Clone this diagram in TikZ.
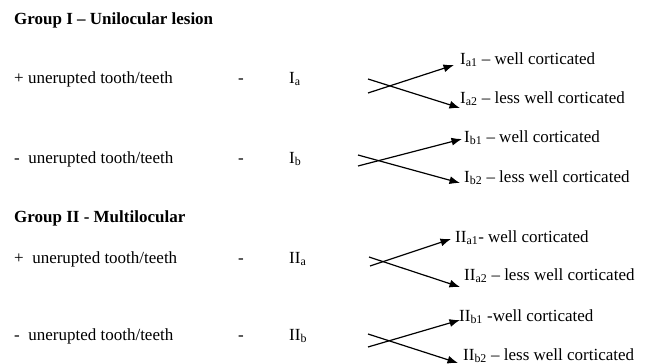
\documentclass[tikz,border=0pt]{standalone}
\usepackage{fontspec}
\setmainfont{Liberation Serif}
\usetikzlibrary{arrows.meta}

\begin{document}
\begin{tikzpicture}[
    x=1pt, y=-1pt,
    >={Latex[length=10.5pt,width=8pt]},
    txt/.style={anchor=base west, inner sep=0pt, font=\fontsize{17}{20}\selectfont},
    head/.style={txt, font=\fontsize{17}{20}\selectfont\bfseries},
    arr/.style={->, line width=1.2pt}
]
    \useasboundingbox (0,0) rectangle (654,364);

    % Group I
    \node[head] (g1) at (14,24) {Group I – Unilocular lesion};
    \node[txt] (pa) at (14,83) {+ unerupted tooth/teeth};
    \node[txt] (da) at (238,83) {-};
    \node[txt] (Ia) at (289,83) {I\textsubscript{a}};
    \node[txt] (pb) at (14,163) {-\ \ unerupted tooth/teeth};
    \node[txt] (db) at (238,163) {-};
    \node[txt] (Ib) at (289,163) {I\textsubscript{b}};

    \node[txt] (Ia1) at (460,64) {I\textsubscript{a1} – well corticated};
    \node[txt] (Ia2) at (460,103) {I\textsubscript{a2} – less well corticated};
    \node[txt] (Ib1) at (464,142) {I\textsubscript{b1} – well corticated};
    \node[txt] (Ib2) at (464,182) {I\textsubscript{b2} – less well corticated};

    % Group II
    \node[head] (g2) at (14,222) {Group II - Multilocular};
    \node[txt] (pc) at (14,263) {+\ \ unerupted tooth/teeth};
    \node[txt] (dc) at (238,263) {-};
    \node[txt] (IIa) at (289,263) {II\textsubscript{a}};
    \node[txt] (pd) at (14,340) {-\ \ unerupted tooth/teeth};
    \node[txt] (dd) at (238,340) {-};
    \node[txt] (IIb) at (289,340) {II\textsubscript{b}};

    \node[txt] (IIa1) at (455,242) {II\textsubscript{a1}- well corticated};
    \node[txt] (IIa2) at (464,280) {II\textsubscript{a2} – less well corticated};
    \node[txt] (IIb1) at (459,321) {II\textsubscript{b1} -well corticated};
    \node[txt] (IIb2) at (463,360) {II\textsubscript{b2} – less well corticated};

    % crossing arrows
    \coordinate (sIa1) at (368,93);
    \coordinate (sIa2) at (368,79);
    \coordinate (sIb1) at (358,166);
    \coordinate (sIb2) at (358,155);
    \coordinate (sIIa1) at (370,266);
    \coordinate (sIIa2) at (369,257);
    \coordinate (sIIb1) at (368,347);
    \coordinate (sIIb2) at (368,334);

    \draw[arr] (sIa1) -- ([xshift=-6pt,yshift=-1pt]Ia1.base west);
    \draw[arr] (sIa2) -- ([yshift=-5pt]Ia2.base west);
    \draw[arr] (sIb1) -- ([xshift=-2pt,yshift=3pt]Ib1.base west);
    \draw[arr] (sIb2) -- ([xshift=-4pt,yshift=-1pt]Ib2.base west);
    \draw[arr] (sIIa1) -- ([xshift=-4pt,yshift=3pt]IIa1.base west);
    \draw[arr] (sIIa2) -- ([xshift=-4pt,yshift=-7pt]IIa2.base west);
    \draw[arr] (sIIb1) -- ([xshift=1pt,yshift=1pt]IIb1.base west);
    \draw[arr] (sIIb2) -- ([xshift=-5pt,yshift=-3pt]IIb2.base west);
\end{tikzpicture}
\end{document}
